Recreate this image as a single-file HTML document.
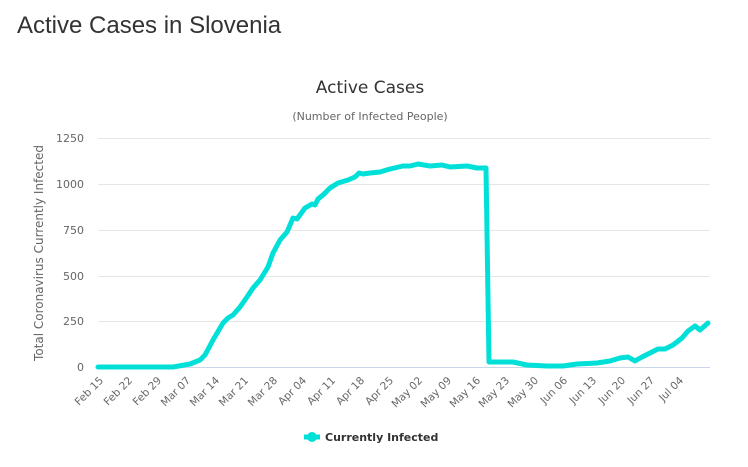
<!DOCTYPE html>
<html><head><meta charset="utf-8"><style>
body{margin:0;background:#fff;width:748px;height:462px;overflow:hidden;font-family:"Liberation Sans",sans-serif}
</style></head><body>
<svg width="748" height="462" xmlns="http://www.w3.org/2000/svg" font-family="'DejaVu Sans','Liberation Sans',sans-serif">
<text x="17" y="33" font-family="'Liberation Sans',sans-serif" font-size="24" fill="#333">Active Cases in Slovenia</text>
<text x="370" y="93" text-anchor="middle" font-size="17" fill="#333">Active Cases</text>
<text x="370" y="120" text-anchor="middle" font-size="11" fill="#666">(Number of Infected People)</text>
<g stroke="#e6e6e6" stroke-width="1">
<line x1="98" x2="710" y1="138.5" y2="138.5"/><line x1="98" x2="710" y1="184.5" y2="184.5"/>
<line x1="98" x2="710" y1="230.5" y2="230.5"/><line x1="98" x2="710" y1="276.5" y2="276.5"/>
<line x1="98" x2="710" y1="321.5" y2="321.5"/>
</g>
<line x1="98" x2="710" y1="367.5" y2="367.5" stroke="#ccd6eb"/>
<g font-size="11" fill="#666" text-anchor="end">
<text x="84" y="142">1250</text><text x="84" y="188">1000</text><text x="84" y="234">750</text>
<text x="84" y="280">500</text><text x="84" y="325">250</text><text x="84" y="371">0</text>
</g>
<text transform="translate(43,253) rotate(-90)" text-anchor="middle" font-size="12" fill="#666">Total Coronavirus Currently Infected</text>
<g font-size="10.5" fill="#666" text-anchor="end">
<text transform="translate(104,381) rotate(-45)">Feb 15</text>
<text transform="translate(133,381) rotate(-45)">Feb 22</text>
<text transform="translate(162,381) rotate(-45)">Feb 29</text>
<text transform="translate(191,381) rotate(-45)">Mar 07</text>
<text transform="translate(220,381) rotate(-45)">Mar 14</text>
<text transform="translate(249,381) rotate(-45)">Mar 21</text>
<text transform="translate(278,381) rotate(-45)">Mar 28</text>
<text transform="translate(307,381) rotate(-45)">Apr 04</text>
<text transform="translate(336,381) rotate(-45)">Apr 11</text>
<text transform="translate(365,381) rotate(-45)">Apr 18</text>
<text transform="translate(394,381) rotate(-45)">Apr 25</text>
<text transform="translate(423,381) rotate(-45)">May 02</text>
<text transform="translate(452,381) rotate(-45)">May 09</text>
<text transform="translate(481,381) rotate(-45)">May 16</text>
<text transform="translate(510,381) rotate(-45)">May 23</text>
<text transform="translate(539,381) rotate(-45)">May 30</text>
<text transform="translate(568,381) rotate(-45)">Jun 06</text>
<text transform="translate(597,381) rotate(-45)">Jun 13</text>
<text transform="translate(626,381) rotate(-45)">Jun 20</text>
<text transform="translate(655,381) rotate(-45)">Jun 27</text>
<text transform="translate(684,381) rotate(-45)">Jul 04</text>
</g>
<polyline fill="none" stroke="#00e0d8" stroke-width="5" stroke-linejoin="round" stroke-linecap="round" points="98,367 173,367 190,364 200,360 205,355 213,340 223,323 228,318 233,315 240,307 247,297 253,288 260,280 268,267 273,253 280,240 287,232 293,218 297,219 305,208 312,204 315,205 318,199 323,195 330,188 338,183 348,180 355,177 359,173 363,174 370,173 380,172 390,169 403,166 410,166 418,164 430,166 442,165 450,167 467,166 477,168 486,168 489,362 497,362 513,362 527,365 547,366 563,366 577,364 597,363 610,361 620,358 628,357 635,361 642,357 650,353 658,349 665,349 673,345 682,338 688,331 695,326 700,330 708,323"/>
<line x1="304" x2="320" y1="437" y2="437" stroke="#00e0d8" stroke-width="5"/>
<circle cx="312" cy="437" r="5" fill="#00e0d8"/>
<text x="325" y="441" font-size="11" font-weight="bold" fill="#333">Currently Infected</text>
</svg>
</body></html>
